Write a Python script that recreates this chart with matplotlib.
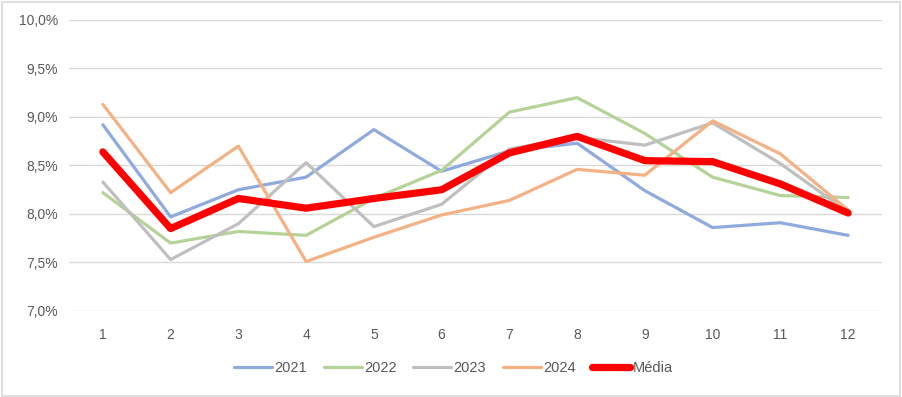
import matplotlib.pyplot as plt
from matplotlib.ticker import FuncFormatter
from matplotlib.patches import Rectangle

# Data
months = list(range(1, 13))
y2021 = [8.92, 7.97, 8.25, 8.38, 8.87, 8.44, 8.65, 8.73, 8.24, 7.86, 7.91, 7.78]
y2022 = [8.22, 7.70, 7.82, 7.78, 8.16, 8.45, 9.05, 9.20, 8.83, 8.38, 8.19, 8.17]
y2023 = [8.33, 7.53, 7.90, 8.53, 7.87, 8.10, 8.67, 8.79, 8.71, 8.94, 8.52, 8.02]
y2024 = [9.13, 8.22, 8.70, 7.51, 7.76, 7.99, 8.14, 8.46, 8.40, 8.96, 8.62, 8.04]
media = [8.64, 7.85, 8.16, 8.06, 8.16, 8.25, 8.63, 8.80, 8.55, 8.54, 8.31, 8.01]

series = [
    ("2021", y2021, "#8FAADC", 2.3),
    ("2022", y2022, "#B4D396", 2.3),
    ("2023", y2023, "#BFBFBF", 2.3),
    ("2024", y2024, "#F4B183", 2.3),
    ("Média", media, "#FF0000", 5.2),
]

plt.rcParams['font.family'] = ['Liberation Sans', 'DejaVu Sans']

fig = plt.figure(figsize=(9.03, 3.97), dpi=100)
ax = fig.add_axes([69 / 903, 1 - 311 / 397, (882 - 69) / 903, (311 - 20) / 397])

for name, vals, color, lw in series:
    ax.plot(months, vals, color=color, lw=lw, label=name, solid_capstyle="round")

ax.set_xlim(0.5, 12.5)
ax.set_ylim(7.0, 10.0)
ax.set_yticks([7.0, 7.5, 8.0, 8.5, 9.0, 9.5, 10.0])
ax.set_xticks(months)
ax.yaxis.set_major_formatter(FuncFormatter(lambda v, p: f"{v:.1f}%".replace(".", ",")))
ax.grid(axis="y", color="#D9D9D9", lw=1)
ax.set_axisbelow(True)
for s in ax.spines.values():
    s.set_visible(False)
ax.tick_params(length=0, colors="#595959", labelsize=10)
ax.tick_params(axis="x", pad=12)
ax.tick_params(axis="y", pad=8)

leg = ax.legend(loc="center", bbox_to_anchor=(0.473, -0.196), ncol=5, frameon=False,
                fontsize=10.5, handlelength=2.6, columnspacing=1.15, handletextpad=0.15)
for t in leg.get_texts():
    t.set_color("#595959")

fig.patches.append(Rectangle((0.002, 0.003), 0.995, 0.993, transform=fig.transFigure,
                             fill=False, edgecolor="#D9D9D9", lw=1.2))

fig.savefig("out.png", dpi=100)
